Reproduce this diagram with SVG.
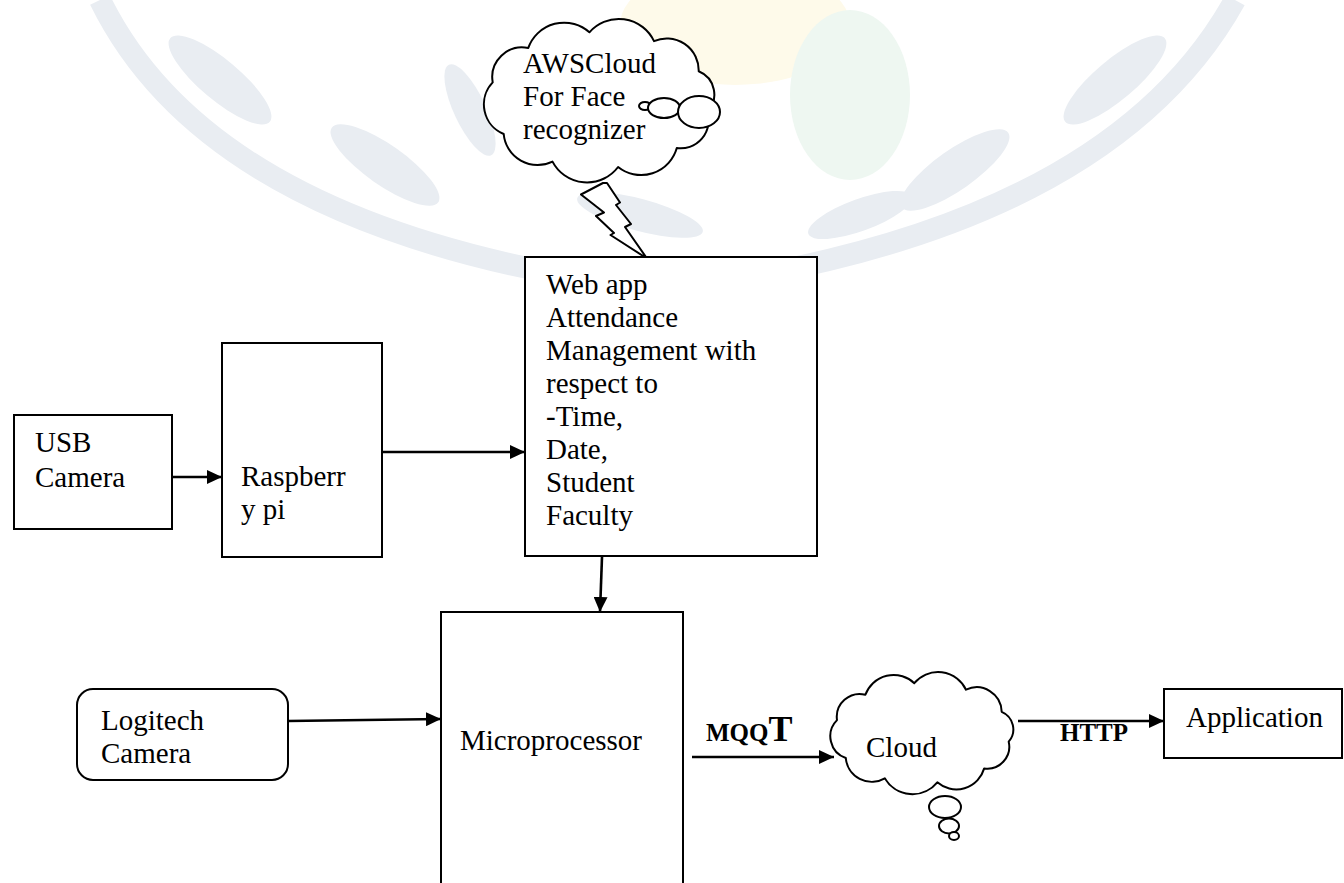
<svg xmlns="http://www.w3.org/2000/svg" width="1344" height="883" viewBox="0 0 1344 883">
<style>
  .box{fill:#ffffff;stroke:#000;stroke-width:2}
  .shape{fill:#ffffff;stroke:#000;stroke-width:2;stroke-linejoin:round}
  .t{font-family:'Liberation Serif','Tinos','Times New Roman','DejaVu Serif',serif;font-size:29px;fill:#000}
  .b{font-family:'Liberation Serif','Tinos','Times New Roman','DejaVu Serif',serif;font-weight:bold;fill:#000}
  .conn{stroke:#000;stroke-width:2.6;fill:none}
  .wm{fill:#e9edf2}
</style>
<defs>
  <marker id="arr" markerUnits="userSpaceOnUse" markerWidth="16" markerHeight="14" refX="15" refY="7" orient="auto">
    <path d="M0,0 L15,7 L0,14 Z" fill="#000"/>
  </marker>
</defs>
<rect width="1344" height="883" fill="#ffffff"/>

<g id="watermark">
  <path d="M 100 0 Q 215 235 660 290 Q 1105 235 1235 0" fill="none" stroke="#e9edf2" stroke-width="22"/>
  <ellipse cx="735" cy="25" rx="115" ry="60" fill="#fefaea"/>
  <ellipse cx="850" cy="95" rx="60" ry="85" fill="#eef7f1"/>
  <ellipse class="wm" cx="220" cy="80" rx="65" ry="20" transform="rotate(40 220 80)"/>
  <ellipse class="wm" cx="385" cy="165" rx="65" ry="20" transform="rotate(35 385 165)"/>
  <ellipse class="wm" cx="470" cy="110" rx="50" ry="16" transform="rotate(65 470 110)"/>
  <ellipse class="wm" cx="640" cy="215" rx="65" ry="16" transform="rotate(15 640 215)"/>
  <ellipse class="wm" cx="1115" cy="80" rx="65" ry="20" transform="rotate(-40 1115 80)"/>
  <ellipse class="wm" cx="955" cy="170" rx="65" ry="20" transform="rotate(-35 955 170)"/>
  <ellipse class="wm" cx="860" cy="215" rx="55" ry="16" transform="rotate(-20 860 215)"/>
</g>

<g id="connectors">
  <line class="conn" x1="172" y1="477" x2="222" y2="477" marker-end="url(#arr)"/>
  <line class="conn" x1="382" y1="452" x2="525" y2="452" marker-end="url(#arr)"/>
  <line class="conn" x1="602" y1="557" x2="600" y2="612" marker-end="url(#arr)"/>
  <line class="conn" x1="288" y1="721" x2="441" y2="719" marker-end="url(#arr)"/>
  <line class="conn" x1="692" y1="757" x2="834" y2="757" marker-end="url(#arr)"/>
  <line class="conn" x1="1018" y1="721" x2="1164" y2="721" marker-end="url(#arr)"/>
</g>

<g id="aws-cloud">
  <path class="shape" d="M 603 183 L 581 194.5 L 604 212.5 L 596 216 L 614 233 L 610.5 235 L 647 258.5 L 625 227 L 631 224 L 616 205 L 620 202.5 L 607 183 Z"/>
  <path class="shape" d="M 492.7 82.4 A 30 30 0 0 1 528.3 47.9 A 38 38 0 0 1 589.4 32.3 A 39 39 0 0 1 654 41.1 A 32 32 0 0 1 698.7 71.3 A 25 25 0 0 1 707.3 111.8 A 28 28 0 0 1 676.8 148.1 A 37 37 0 0 1 618.1 167 A 39 39 0 0 1 552.5 161.6 A 34 34 0 0 1 503.7 134 A 32 32 0 0 1 492.7 82.4 Z"/>
  <ellipse class="shape" cx="645" cy="106" rx="6" ry="4"/>
  <ellipse class="shape" cx="664" cy="108" rx="16" ry="10"/>
  <ellipse class="shape" cx="699" cy="112" rx="21" ry="16"/>
  <text class="t" x="523" y="73">AWSCloud</text>
  <text class="t" x="523" y="106">For Face</text>
  <text class="t" x="523" y="139">recognizer</text>
</g>

<g id="usb-camera">
  <rect class="box" x="14" y="415" width="158" height="114"/>
  <text class="t" x="35" y="452">USB</text>
  <text class="t" x="35" y="487">Camera</text>
</g>

<g id="raspberry-pi">
  <rect class="box" x="222" y="343" width="160" height="214"/>
  <text class="t" x="241" y="486">Raspberr</text>
  <text class="t" x="241" y="519">y pi</text>
</g>

<g id="web-app">
  <rect class="box" x="525" y="257" width="292" height="299"/>
  <text class="t" x="546" y="294">Web app</text>
  <text class="t" x="546" y="327">Attendance</text>
  <text class="t" x="546" y="360">Management with</text>
  <text class="t" x="546" y="393">respect to</text>
  <text class="t" x="546" y="426">-Time,</text>
  <text class="t" x="546" y="459">Date,</text>
  <text class="t" x="546" y="492">Student</text>
  <text class="t" x="546" y="525">Faculty</text>
</g>

<g id="logitech-camera">
  <rect class="box" x="77" y="689" width="211" height="91" rx="16" ry="16"/>
  <text class="t" x="101" y="730">Logitech</text>
  <text class="t" x="101" y="763">Camera</text>
</g>

<g id="microprocessor">
  <rect class="box" x="441" y="612" width="242" height="290"/>
  <text class="t" x="460" y="750">Microprocessor</text>
</g>

<g id="mqqt-label">
  <text class="b" x="706" y="741" font-size="25">MQQ<tspan font-size="36">T</tspan></text>
</g>

<g id="cloud">
  <path class="shape" d="M 837 720.1 A 23 23 0 0 1 865.4 694.7 A 30 30 0 0 1 914.3 683.2 A 31 31 0 0 1 966 689.7 A 25 25 0 0 1 1001.7 711.8 A 19 19 0 0 1 1008.7 741.7 A 22 22 0 0 1 984.2 768.4 A 29 29 0 0 1 937.3 782.3 A 32 32 0 0 1 884.8 778.3 A 26 26 0 0 1 845.8 758 A 23 23 0 0 1 837 720.1 Z"/>
  <ellipse class="shape" cx="945" cy="807" rx="16" ry="11"/>
  <ellipse class="shape" cx="949" cy="826" rx="10" ry="7.5"/>
  <ellipse class="shape" cx="954" cy="836" rx="5" ry="4"/>
  <text class="t" x="866" y="757">Cloud</text>
</g>

<g id="http-label">
  <text class="b" x="1060" y="741" font-size="25">HTTP</text>
</g>

<g id="application">
  <rect class="box" x="1164" y="689" width="178" height="69"/>
  <text class="t" x="1186" y="727">Application</text>
</g>
</svg>
